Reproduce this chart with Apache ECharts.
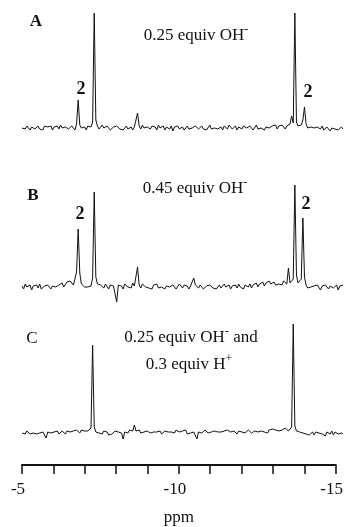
<!DOCTYPE html>
<html>
<head>
<meta charset="utf-8">
<script src="https://cdn.jsdelivr.net/npm/echarts@6/dist/echarts.min.js"></script>
<style>
    html, body { margin: 0; padding: 0; background: #fff; }
    #divChart { width: 346px; height: 527px; }
</style>
</head>
<body>
<div id="divChart"></div>
<script>
// 谱图数据：化学位移从 -5 ppm 开始，每点 0.05 ppm，共 201 点
var ppmStart = -5;
var ppmStep = 0.05;

// A: 0.25 equiv OH-
var spectrumA = [
    0, 1, -1, 2, 0, -2, 1, 3, -1, 0,
    2, -1, 1, -2, 2, 0, 1, -1, 2, -2,
    1, 0, 2, -1, 3, 0, -2, 1, 2, -1,
    0, 2, 1, -2, 4, 28, 3, 0, -1, 1,
    -2, 2, 0, 1, 6, 115, 8, 2, -1, 1,
    3, 0, -1, 2, 1, -2, 0, 1, -1, 2,
    0, -1, 1, -2, 0, 2, -1, 0, 1, -2,
    1, 2, 15, 2, -1, 3, 0, -2, 1, 2,
    -1, 2, 0, 1, -2, 3, 0, -1, 2, -2,
    1, 0, -1, 2, -3, 1, 0, 2, -1, 0,
    1, -2, 0, 2, -1, 1, 0, -2, 2, 1,
    -1, 0, 2, -1, 1, -2, 0, 3, -1, 1,
    0, 2, -1, 0, 1, -2, 2, 0, -1, 3,
    1, -1, 0, 2, -2, 1, 0, -1, 2, 4,
    0, -1, 2, 1, -2, 0, 3, -1, 1, 0,
    2, -2, 1, 3, 0, -1, 2, 1, 3, -1,
    2, 0, 3, 1, -1, 2, 2, 4, 12, 5,
    115, 6, 2, 1, 3, 8, 21, 4, 0, -2,
    1, -1, 0, -2, 1, 0, -1, 2, -2, 0,
    1, -1, -3, 0, 2, -1, 1, -2, 0, 1, -1
];

// B: 0.45 equiv OH-
var spectrumB = [
    1, -2, 3, 0, -1, 2, -3, 1, 0, 2,
    -1, 3, -2, 0, 1, -1, 2, 0, -2, 1,
    3, 0, -1, 2, 1, 4, 0, 2, 5, 3,
    6, 4, 2, 8, 15, 58, 14, 3, 1, 0,
    -1, 0, 2, 1, 9, 95, 10, 3, 1, 2,
    0, -1, 3, 1, -2, 2, 0, 1, 3, -15,
    2, 0, 1, -2, 3, 1, 0, 2, -1, 4,
    1, 3, 20, 2, -1, 3, 4, 0, 2, -1,
    1, -2, 2, 0, 3, -1, 1, 0, 2, -2,
    1, 3, 0, -1, 2, 1, -2, 0, 3, 1,
    -1, 2, 0, 1, -2, 1, 3, 9, 2, 0,
    -1, 2, 1, -2, 0, 1, -1, 2, 0, -1,
    1, -2, 0, 2, -1, 1, 3, 0, -1, 2,
    -2, 1, 0, 2, -1, 3, 0, 1, -2, 2,
    1, 0, 3, -1, 2, 1, 4, 0, 3, 2,
    5, 1, 4, 2, 6, 3, 1, 5, 2, 4,
    3, 5, 2, 6, 4, 3, 19, 4, 6, 8,
    102, 12, 4, 3, 8, 69, 10, 2, -1, 1,
    0, -2, 1, -1, 2, 0, -3, 1, -1, 2,
    0, -2, 1, 3, -1, 0, 2, -3, 1, 0, 2
];

// C: 0.25 equiv OH- and 0.3 equiv H+
var spectrumC = [
    0, 1, -1, 2, 0, -1, 1, 0, 2, -1,
    1, 0, -2, 1, 0, -5, 1, 2, 0, -1,
    1, 0, 2, -1, 1, 2, 0, -1, 2, 3,
    1, 0, 2, 1, 3, 2, 0, 3, 1, 2,
    3, 2, 4, 5, 88, 6, 1, 2, 0, 1,
    -1, 2, 0, 1, -2, 0, -1, 1, 2, 0,
    1, -1, 0, -6, 1, 2, 0, 3, 1, 2,
    8, 2, 1, 3, 0, 2, 1, -1, 2, 1,
    0, 2, 1, 3, 1, 0, 2, -1, 1, 2,
    0, 1, 3, 1, 2, 0, 3, 2, 1, 0,
    2, 1, 3, -1, 1, 0, 2, 1, -1, -6,
    1, 2, 0, 1, 3, 1, 0, 2, 1, -1,
    2, 0, 1, 3, 1, 0, 2, 1, 3, 2,
    1, 0, 2, 1, -1, 2, 0, 1, 2, 0,
    1, 3, 2, 0, 1, 2, 4, 1, 0, 2,
    3, 1, 2, 0, 3, 1, 4, 2, 3, 1,
    2, 4, 3, 1, 5, 3, 2, 4, 6, 109,
    7, 2, 0, 1, -1, 0, 2, -1, 1, -2,
    0, 1, -2, 1, -1, 0, 2, -1, 0, -3,
    1, 0, -1, 2, -2, 1, 0, -1, 1, 0, -1
];

// 坐标轴
var axisMin = -15;
var axisMax = -5;
var axisTickStep = 1;
var axisLabelStep = 5;

var serifFont = '"Liberation Serif", "DejaVu Serif", serif';

function toPoints(values) {
    var pts = [];
    for (var i = 0; i < values.length; i++) {
        pts.push([ppmStart - i * ppmStep, values[i]]);
    }
    return pts;
}

function hiddenX(idx) {
    return {
        gridIndex: idx,
        type: 'value',
        min: axisMin,
        max: axisMax,
        inverse: true,
        show: false
    };
}

function hiddenY(idx, lo, hi) {
    return {
        gridIndex: idx,
        type: 'value',
        min: lo,
        max: hi,
        show: false
    };
}

function lineSeries(idx, values) {
    return {
        type: 'line',
        xAxisIndex: idx,
        yAxisIndex: idx,
        data: toPoints(values),
        showSymbol: false,
        silent: true,
        animation: false,
        lineStyle: { color: '#111', width: 1 }
    };
}

function label(text, x, y, size, weight, rich) {
    return {
        type: 'text',
        x: x,
        y: y,
        silent: true,
        style: {
            text: text,
            fill: '#111',
            fontFamily: serifFont,
            fontSize: size,
            fontWeight: weight || 'normal',
            align: 'center',
            verticalAlign: 'middle',
            rich: rich
        }
    };
}

var supRich = {
    t: { fontFamily: serifFont, fontSize: 17, fill: '#111', verticalAlign: 'bottom', lineHeight: 20 },
    s: { fontFamily: serifFont, fontSize: 12, fill: '#111', verticalAlign: 'top', lineHeight: 20 }
};

var myChart = echarts.init(document.getElementById('divChart'));

var option = {
    backgroundColor: '#fff',
    animation: false,
    grid: [
        { left: 22, right: 3, top: 5, height: 135 },
        { left: 22, right: 3, top: 175, height: 135 },
        { left: 22, right: 3, top: 315, height: 130 },
        { left: 22, right: 3, top: 455, height: 10 }
    ],
    xAxis: [
        hiddenX(0),
        hiddenX(1),
        hiddenX(2),
        {
            gridIndex: 3,
            type: 'value',
            min: axisMin,
            max: axisMax,
            interval: axisTickStep,
            inverse: true,
            position: 'bottom',
            name: 'ppm',
            nameLocation: 'middle',
            nameGap: 44,
            nameTextStyle: { fontFamily: serifFont, fontSize: 17, color: '#111' },
            axisLine: { show: true, lineStyle: { color: '#111', width: 2 } },
            axisTick: { show: true, inside: false, length: 9, lineStyle: { color: '#111', width: 1.5 } },
            axisLabel: {
                margin: 16,
                fontFamily: serifFont,
                fontSize: 17,
                color: '#111',
                showMaxLabel: true,
                showMinLabel: true,
                padding: [0, 8, 0, 0],
                formatter: function(v) {
                    return v % axisLabelStep === 0 ? String(v) : '';
                }
            },
            splitLine: { show: false }
        }
    ],
    yAxis: [
        hiddenY(0, -12, 123),
        hiddenY(1, -23, 112),
        hiddenY(2, -12, 118),
        hiddenY(3, 0, 1)
    ],
    series: [
        lineSeries(0, spectrumA),
        lineSeries(1, spectrumB),
        lineSeries(2, spectrumC)
    ],
    graphic: [
        label('A', 36, 22, 17, 'bold'),
        label('{t|0.25 equiv OH}{s|-}', 196, 34, 17, 'normal', supRich),
        label('2', 81, 89, 18, 'bold'),
        label('2', 308, 92, 18, 'bold'),

        label('B', 33, 196, 17, 'bold'),
        label('{t|0.45 equiv OH}{s|-}', 195, 187, 17, 'normal', supRich),
        label('2', 80, 214, 18, 'bold'),
        label('2', 306, 204, 18, 'bold'),

        label('C', 32, 339, 17, 'normal'),
        label('{t|0.25 equiv OH}{s|-}{t| and}', 191, 336, 17, 'normal', supRich),
        label('{t|0.3 equiv H}{s|+}', 189, 363, 17, 'normal', supRich)
    ]
};

myChart.setOption(option);
</script>
</body>
</html>
